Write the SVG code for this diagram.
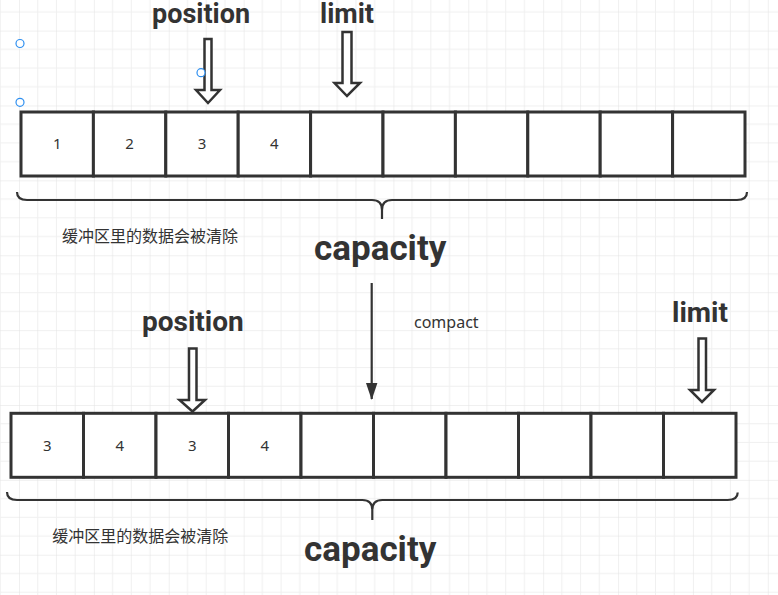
<svg xmlns="http://www.w3.org/2000/svg" width="778" height="595" viewBox="0 0 778 595">
  <defs>
    <pattern id="grid" patternUnits="userSpaceOnUse" x="19" y="30.6" width="74.88" height="74.88">
      <path d="M18.72,0V74.88M37.44,0V74.88M56.16,0V74.88M0,18.72H74.88M0,37.44H74.88M0,56.16H74.88" stroke="#f0f0f0" stroke-width="1" fill="none"/>
      <path d="M0,0V74.88M0,0H74.88" stroke="#e2e2e2" stroke-width="1" fill="none"/>
    </pattern>
    <marker id="head" markerWidth="17" markerHeight="12" refX="16" refY="6" orient="auto" markerUnits="userSpaceOnUse" viewBox="0 0 17 12">
      <path d="M0,0.3 L17,6 L0,11.7 Z" fill="#333"/>
    </marker>
  </defs>
  <style>
    .cell { fill: #fff; stroke: #333; stroke-width: 3; }
    .num { font-family: "Noto Sans", "Liberation Sans", sans-serif; font-size: 15px; fill: #333; text-anchor: middle; }
    .big { font-family: Roboto, "Noto Sans", "Liberation Sans", sans-serif; font-weight: bold; fill: #333; }
    .cn { font-family: "Noto Sans", "Noto Sans CJK SC", sans-serif; font-size: 16px; fill: #333; }
    .blk { fill: #fff; stroke: #333; stroke-width: 2.5; stroke-linejoin: miter; }
    .brace { fill: none; stroke: #333; stroke-width: 2.2; }
    .handle { fill: #fff; stroke: #2e8ff0; stroke-width: 1.2; }
  </style>
  <rect x="0" y="0" width="778" height="595" fill="#fff"/>
  <rect x="0" y="0" width="778" height="595" fill="url(#grid)"/>

  <g id="buffer-top">
    <rect class="cell" x="21" y="112" width="72.4" height="64"/>
    <rect class="cell" x="93.4" y="112" width="72.4" height="64"/>
    <rect class="cell" x="165.8" y="112" width="72.4" height="64"/>
    <rect class="cell" x="238.2" y="112" width="72.4" height="64"/>
    <rect class="cell" x="310.6" y="112" width="72.4" height="64"/>
    <rect class="cell" x="383" y="112" width="72.4" height="64"/>
    <rect class="cell" x="455.4" y="112" width="72.4" height="64"/>
    <rect class="cell" x="527.8" y="112" width="72.4" height="64"/>
    <rect class="cell" x="600.2" y="112" width="72.4" height="64"/>
    <rect class="cell" x="672.6" y="112" width="72.4" height="64"/>
    <text class="num" x="57.2" y="149.3">1</text>
    <text class="num" x="129.6" y="149.3">2</text>
    <text class="num" x="202" y="149.3">3</text>
    <text class="num" x="274.4" y="149.3">4</text>
  </g>

  <g id="position-top">
    <text class="big" x="152" y="23" font-size="27">position</text>
    <path class="blk" d="M204.5,39 H211.5 V90 H220 L208,103 L196,90 H204.5 Z"/>
  </g>
  <g id="limit-top">
    <text class="big" x="320" y="23" font-size="27">limit</text>
    <path class="blk" d="M342.5,32 H351.5 V83 H360 L347,96 L334.5,83 H342.5 Z"/>
  </g>

  <g id="capacity-top">
    <path class="brace" d="M17,192 Q17,200 27,200 H372 Q382,200 382,210 V219 M382,210 Q382,200 392,200 H737 Q747,200 747,192"/>
    <text class="big" x="314" y="260" font-size="35">capacity</text>
  </g>
  <g id="note-top">
    <text class="cn" x="62" y="242">缓冲区里的数据会被清除</text>
  </g>

  <g id="connectors">
    <line x1="371.7" y1="283" x2="371.7" y2="399" stroke="#333" stroke-width="2.2" marker-end="url(#head)"/>
  </g>
  <g id="compact-label">
    <text class="cn" x="414" y="328">compact</text>
  </g>

  <g id="position-bottom">
    <text class="big" x="142" y="331" font-size="28">position</text>
    <path class="blk" d="M189,348.5 H196.5 V400 H205 L192.5,411.5 L179.5,400 H189 Z"/>
  </g>
  <g id="limit-bottom">
    <text class="big" x="672" y="322" font-size="28">limit</text>
    <path class="blk" d="M698.5,338.5 H706 V390 H714 L702,402 L690,390 H698.5 Z"/>
  </g>

  <g id="buffer-bottom">
    <rect class="cell" x="11" y="413.3" width="72.5" height="64"/>
    <rect class="cell" x="83.5" y="413.3" width="72.5" height="64"/>
    <rect class="cell" x="156" y="413.3" width="72.5" height="64"/>
    <rect class="cell" x="228.5" y="413.3" width="72.5" height="64"/>
    <rect class="cell" x="301" y="413.3" width="72.5" height="64"/>
    <rect class="cell" x="373.5" y="413.3" width="72.5" height="64"/>
    <rect class="cell" x="446" y="413.3" width="72.5" height="64"/>
    <rect class="cell" x="518.5" y="413.3" width="72.5" height="64"/>
    <rect class="cell" x="591" y="413.3" width="72.5" height="64"/>
    <rect class="cell" x="663.5" y="413.3" width="72.5" height="64"/>
    <text class="num" x="47.2" y="450.7">3</text>
    <text class="num" x="119.7" y="450.7">4</text>
    <text class="num" x="192.2" y="450.7">3</text>
    <text class="num" x="264.7" y="450.7">4</text>
  </g>

  <g id="capacity-bottom">
    <path class="brace" d="M7,492 Q7,500 17,500 H362.3 Q372.3,500 372.3,510 V520 M372.3,510 Q372.3,500 382.3,500 H727.7 Q737.7,500 737.7,492.5"/>
    <text class="big" x="304" y="561" font-size="35">capacity</text>
  </g>
  <g id="note-bottom">
    <text class="cn" x="52.3" y="542">缓冲区里的数据会被清除</text>
  </g>

  <g id="handles">
    <circle class="handle" cx="20" cy="43.5" r="4"/>
    <circle class="handle" cx="201" cy="72.7" r="4"/>
    <circle class="handle" cx="20" cy="102.3" r="4"/>
  </g>
</svg>
